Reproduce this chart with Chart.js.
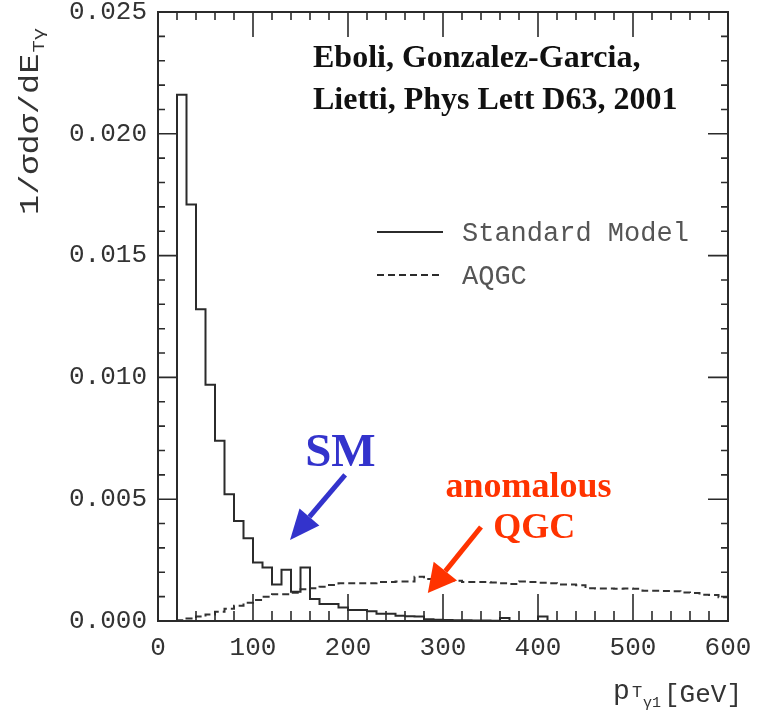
<!DOCTYPE html>
<html>
<head>
<meta charset="utf-8">
<script src="https://cdn.jsdelivr.net/npm/chart.js@4.4.0/dist/chart.umd.min.js"></script>
<style>
  html, body { margin: 0; padding: 0; background: #fff; }
  canvas { display: block; }
</style>
</head>
<body>
<canvas id="ptChart" width="757" height="716"></canvas>
<script>
// photon pT spectrum, 10 GeV bins, normalised
const binWidth = 10;
const smStart = 20;
const smValues = [
  0.0216, 0.0171, 0.0128, 0.0097, 0.0074, 0.0052, 0.0041, 0.0034,
  0.0024, 0.0022, 0.0015, 0.0021, 0.0012, 0.0022, 0.0009, 0.0007,
  0.0007, 0.00055, 0.00045, 0.00045, 0.0004, 0.0003, 0.0003, 0.00022,
  0.0002, 0.00018, 0.00007, 0.00005, 0.00004, 0.00003, 0.00003, 0.00002,
  0.00002, 0.00001, 0.00012, 0, 0, 0, 0.00018, 0
];
const aqgcStart = 20;
const aqgcValues = [
  0.00003, 0.0001, 0.00018, 0.00027, 0.00038, 0.0005, 0.00063, 0.00075,
  0.00086, 0.001, 0.0011, 0.0011, 0.00116, 0.0013, 0.00134, 0.00141,
  0.00148, 0.00155, 0.00155, 0.00155, 0.00155, 0.0016, 0.0016, 0.00162,
  0.00162, 0.00182, 0.00172, 0.0017, 0.00168, 0.00165, 0.0016, 0.0016,
  0.0016, 0.00158, 0.00155, 0.00152, 0.00162, 0.0016, 0.00157, 0.00155,
  0.0015, 0.0015, 0.00147, 0.00134, 0.00133, 0.00133, 0.00132, 0.00133,
  0.00132, 0.00124, 0.00124, 0.00123, 0.00122, 0.00117, 0.00115, 0.00108,
  0.00107, 0.00098
];
const xTickValues = [0, 100, 200, 300, 400, 500, 600];
const yTickValues = [0, 0.005, 0.010, 0.015, 0.020, 0.025];
const yTickLabels = ["0.000", "0.005", "0.010", "0.015", "0.020", "0.025"];

const ink = "#2b2b2b";
const mono = "'Liberation Mono', 'DejaVu Sans Mono', monospace";
const serif = "'Liberation Serif', 'DejaVu Serif', serif";

// points at left bin edges, plus the right edge of the last bin
function histPoints(start, width, values) {
  const pts = [{ x: start, y: 0 }];
  values.forEach((v, i) => pts.push({ x: start + i * width, y: v }));
  pts.push({ x: start + values.length * width, y: values[values.length - 1] });
  return pts;
}

function arrow(ctx, x0, y0, x1, y1, color, headLen, headHalf, width) {
  const ang = Math.atan2(y1 - y0, x1 - x0);
  const bx = x1 - headLen * Math.cos(ang);
  const by = y1 - headLen * Math.sin(ang);
  ctx.strokeStyle = color;
  ctx.fillStyle = color;
  ctx.lineWidth = width;
  ctx.beginPath();
  ctx.moveTo(x0, y0);
  ctx.lineTo(bx, by);
  ctx.stroke();
  ctx.beginPath();
  ctx.moveTo(x1, y1);
  ctx.lineTo(bx + headHalf * Math.sin(ang), by - headHalf * Math.cos(ang));
  ctx.lineTo(bx - headHalf * Math.sin(ang), by + headHalf * Math.cos(ang));
  ctx.closePath();
  ctx.fill();
}

// frame, inward ticks on all four sides, titles, legend and notes
const decor = {
  id: "decor",
  afterDraw(chart) {
    const { ctx, chartArea: a, scales: { x, y } } = chart;
    ctx.save();
    ctx.strokeStyle = ink;
    ctx.lineWidth = 2;
    ctx.strokeRect(a.left, a.top, a.right - a.left, a.bottom - a.top);

    ctx.lineWidth = 1.6;
    ctx.beginPath();
    for (let v = 0; v <= 600; v += 20) {
      const px = x.getPixelForValue(v);
      const major = v % 100 === 0;
      ctx.moveTo(px, a.bottom); ctx.lineTo(px, a.bottom - (major ? 27 : 10));
      ctx.moveTo(px, a.top); ctx.lineTo(px, a.top + (major ? 25 : 8));
    }
    for (let i = 0; i <= 25; i++) {
      const py = y.getPixelForValue(i * 0.001);
      const major = i % 5 === 0;
      ctx.moveTo(a.left, py); ctx.lineTo(a.left + (major ? 20 : 7), py);
      ctx.moveTo(a.right, py); ctx.lineTo(a.right - (major ? 20 : 7), py);
    }
    ctx.stroke();

    // y title
    ctx.fillStyle = "#333";
    ctx.save();
    ctx.translate(31, 215);
    ctx.rotate(-Math.PI / 2);
    ctx.scale(1.2, 1);
    ctx.font = "28px " + mono;
    ctx.textBaseline = "middle";
    ctx.textAlign = "left";
    const main = "1/\u03c3d\u03c3/dE";
    ctx.fillText(main, 0, 0);
    const w = ctx.measureText(main).width;
    ctx.font = "17px " + mono;
    ctx.fillText("T\u03b3", w + 1, 8);
    ctx.restore();

    // x title
    ctx.textAlign = "left";
    ctx.textBaseline = "alphabetic";
    ctx.font = "28px " + mono;
    ctx.fillText("p", 613, 699);
    ctx.font = "17px " + mono;
    ctx.fillText("T", 632, 697);
    ctx.font = "15px " + mono;
    ctx.fillText("\u03b31", 643, 707);
    ctx.font = "26px " + mono;
    ctx.fillText("[GeV]", 664, 702);

    // legend
    const lx0 = a.left + 219, lx1 = a.left + 285;
    ctx.strokeStyle = ink;
    ctx.lineWidth = 2;
    ctx.beginPath(); ctx.moveTo(lx0, 232); ctx.lineTo(lx1, 232); ctx.stroke();
    ctx.lineWidth = 2;
    ctx.setLineDash([7, 4]);
    ctx.beginPath(); ctx.moveTo(lx0, 275); ctx.lineTo(lx1, 275); ctx.stroke();
    ctx.setLineDash([]);
    ctx.fillStyle = "#555";
    ctx.font = "27px " + mono;
    ctx.textBaseline = "middle";
    chart.data.datasets.forEach((ds, i) => ctx.fillText(ds.label, a.left + 304, 234 + i * 43));

    // reference note
    ctx.fillStyle = "#111";
    ctx.font = "bold 32px " + serif;
    ctx.textBaseline = "alphabetic";
    ctx.fillText("Eboli, Gonzalez-Garcia,", 313, 67);
    ctx.fillText("Lietti, Phys Lett D63, 2001", 313, 109);

    // SM / anomalous QGC callouts
    ctx.textAlign = "center";
    ctx.fillStyle = "#3333cc";
    ctx.font = "bold 47px " + serif;
    ctx.fillText("SM", x.getPixelForValue(192), y.getPixelForValue(0.00635));
    arrow(ctx, x.getPixelForValue(197), y.getPixelForValue(0.006),
      x.getPixelForValue(139), y.getPixelForValue(0.00333), "#3333cc", 30, 13, 5);

    ctx.fillStyle = "#ff3300";
    ctx.font = "bold 36px " + serif;
    ctx.fillText("anomalous", x.getPixelForValue(390), y.getPixelForValue(0.00508));
    ctx.fillText("QGC", x.getPixelForValue(396), y.getPixelForValue(0.00341));
    arrow(ctx, x.getPixelForValue(340), y.getPixelForValue(0.00386),
      x.getPixelForValue(284), y.getPixelForValue(0.00115), "#ff3300", 28, 15, 5);
    ctx.restore();
  }
};

const ctx = document.getElementById("ptChart");
const chart = new Chart(ctx, {
  type: "line",
  data: {
    datasets: [
      {
        label: "Standard Model",
        data: histPoints(smStart, binWidth, smValues),
        stepped: "before",
        borderColor: ink,
        borderWidth: 2,
        pointRadius: 0,
        fill: false,
      },
      {
        label: "AQGC",
        data: histPoints(aqgcStart, binWidth, aqgcValues),
        stepped: "before",
        borderColor: "#333",
        borderWidth: 2,
        borderDash: [7, 4],
        pointRadius: 0,
        fill: false,
      },
    ],
  },
  options: {
    responsive: false,
    animation: false,
    layout: { padding: { top: 12, right: 29, left: 0, bottom: 0 } },
    plugins: { legend: { display: false }, tooltip: { enabled: false } },
    scales: {
      x: {
        type: "linear",
        min: 0,
        max: 600,
        grid: { display: false, drawTicks: false },
        border: { display: false },
        afterBuildTicks: s => { s.ticks = xTickValues.map(v => ({ value: v })); },
        ticks: {
          font: { family: mono, size: 26 },
          color: "#333",
          padding: 12,
          maxRotation: 0,
          autoSkip: false,
          callback: v => String(v),
        },
        afterFit: s => { s.height = 95; s.paddingLeft = 0; s.paddingRight = 0; },
      },
      y: {
        type: "linear",
        min: 0,
        max: 0.025,
        grid: { display: false, drawTicks: false },
        border: { display: false },
        afterBuildTicks: s => { s.ticks = yTickValues.map(v => ({ value: v })); },
        ticks: {
          font: { family: mono, size: 26 },
          color: "#333",
          padding: 11,
          callback: (v, i) => yTickLabels[i],
        },
        afterFit: s => { s.width = 158; s.paddingTop = 0; s.paddingBottom = 0; },
      },
    },
  },
  plugins: [decor],
});
</script>
</body>
</html>
